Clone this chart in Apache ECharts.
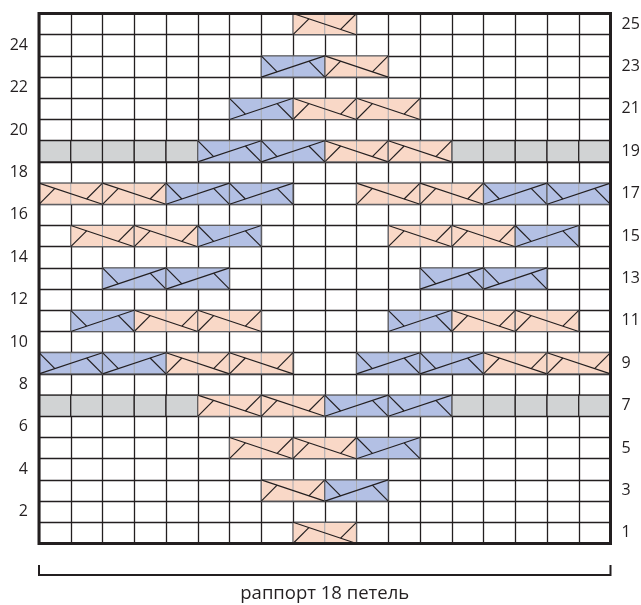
<!DOCTYPE html>
<html>
<head>
<meta charset="utf-8">
<script src="https://cdn.jsdelivr.net/npm/echarts@6/dist/echarts.min.js"></script>
<style>html,body{margin:0;padding:0;background:#fff;}#chart{width:641px;height:605px;}</style>
</head>
<body>
<div id="chart"></div>
<script>
// ---- data ----
const stitchCols = ['1','2','3','4','5','6','7','8','9','10','11','12','13','14','15','16','17','18'];
const rowLabels = ['1','2','3','4','5','6','7','8','9','10','11','12','13','14','15','16','17','18','19','20','21','22','23','24','25'];
// [row, first stitch] of each 2-stitch cross, right-leaning (peach)
const peachCables = [
  [1,9],
  [3,8],
  [5,7],[5,9],
  [7,6],[7,8],
  [9,5],[9,7],[9,15],[9,17],
  [11,4],[11,6],[11,14],[11,16],
  [15,2],[15,4],[15,12],[15,14],
  [17,1],[17,3],[17,11],[17,13],
  [19,10],[19,12],
  [21,9],[21,11],
  [23,10],
  [25,9]
];
// left-leaning (blue)
const blueCables = [
  [3,10],
  [5,11],
  [7,10],[7,12],
  [9,1],[9,3],[9,11],[9,13],
  [11,2],[11,12],
  [13,3],[13,5],[13,13],[13,15],
  [15,6],[15,16],
  [17,5],[17,7],[17,15],[17,17],
  [19,6],[19,8],
  [21,7],
  [23,8]
];
// [row, from stitch, to stitch] grey "no stitch" cells
const greyRuns = [[7,1,5],[7,14,18],[19,1,5],[19,14,18]];
const caption = 'раппорт 18 петель';

// ---- styles ----
const INK = '#231f20';
const PEACH = '#f9d8c7';
const BLUE = '#b3c0e4';
const GREY = '#d1d3d4';
const FONT = "'Open Sans', sans-serif";

function cableItem(params, api) {
  const col = api.value(0), row = api.value(1), kind = api.value(2);
  const c = api.coord([col, row]);
  const s = api.size([1, 1]);
  const w = s[0], h = s[1];
  const x = c[0] - w / 2, y = c[1] - h / 2, W = 2 * w;
  const lines = kind === 0
    ? [[x, y, x + W, y + h], [x, y + h, x + W / 4, y + h / 4], [x + W, y, x + 3 * W / 4, y + 3 * h / 4]]
    : [[x, y + h, x + W, y], [x, y, x + W / 4, y + 3 * h / 4], [x + W, y + h, x + 3 * W / 4, y + h / 4]];
  const children = [
    {type: 'rect', shape: {x: x, y: y, width: W, height: h}, style: {fill: kind === 0 ? PEACH : BLUE, stroke: null}},
    {type: 'line', shape: {x1: x + w, y1: y, x2: x + w, y2: y + h}, style: {stroke: '#a8aab0', lineWidth: 1}},
    {type: 'rect', shape: {x: x, y: y, width: W, height: h}, style: {fill: null, stroke: '#5f5f63', lineWidth: 1.2}}
  ];
  lines.forEach(function (l) {
    children.push({type: 'line', shape: {x1: l[0], y1: l[1], x2: l[2], y2: l[3]}, style: {stroke: INK, lineWidth: 1.2}});
  });
  return {type: 'group', children: children};
}

function greyItem(params, api) {
  const row = api.value(0), from = api.value(1), to = api.value(2);
  const s = api.size([1, 1]);
  const children = [];
  for (let k = from; k <= to; k++) {
    const c = api.coord([k, row]);
    children.push({type: 'rect', shape: {x: c[0] - s[0] / 2, y: c[1] - s[1] / 2, width: s[0], height: s[1]},
      style: {fill: GREY, stroke: INK, lineWidth: 1.2}});
  }
  return {type: 'group', children: children};
}

function frameItem(params, api) {
  const s = api.size([1, 1]);
  const a = api.coord([0, 0]);
  const b = api.coord([stitchCols.length - 1, rowLabels.length - 1]);
  const left = a[0] - s[0] / 2, right = b[0] + s[0] / 2;
  const bottom = a[1] + s[1] / 2, top = b[1] - s[1] / 2;
  const by = bottom + 31.5;
  return {type: 'group', children: [
    {type: 'rect', shape: {x: left, y: top, width: right - left, height: bottom - top}, style: {fill: null, stroke: INK, lineWidth: 3}},
    {type: 'polyline', shape: {points: [[left, by - 10], [left, by], [right, by], [right, by - 10]]}, style: {fill: null, stroke: INK, lineWidth: 2}}
  ]};
}

const cableData = peachCables.map(function (p) { return [p[1] - 1, p[0] - 1, 0]; })
  .concat(blueCables.map(function (p) { return [p[1] - 1, p[0] - 1, 1]; }));
const greyData = greyRuns.map(function (g) { return [g[0] - 1, g[1] - 1, g[2] - 1]; });

const chart = echarts.init(document.getElementById('chart'), null, {renderer: 'canvas'});
chart.setOption({
  animation: false,
  backgroundColor: '#fff',
  grid: {left: 39, right: 30.5, top: 13.5, bottom: 61.5, containLabel: false, outerBoundsMode: 'none'},
  xAxis: {
    type: 'category', data: stitchCols, position: 'bottom',
    axisLine: {show: false}, axisTick: {show: false}, axisLabel: {show: false},
    splitLine: {show: true, interval: 0, lineStyle: {color: INK, width: 1.3}},
    name: caption, nameLocation: 'middle', nameGap: 41,
    nameTextStyle: {fontFamily: FONT, fontSize: 18.5, color: INK}
  },
  yAxis: [
    {
      type: 'category', data: rowLabels, position: 'left',
      axisLine: {show: false}, axisTick: {show: false},
      axisLabel: {interval: 0, margin: 11, fontFamily: FONT, fontSize: 16, color: INK,
        formatter: function (v) { return (+v) % 2 === 0 ? v : ''; }},
      splitLine: {show: true, interval: 0, lineStyle: {color: INK, width: 1.3}}
    },
    {
      type: 'category', data: rowLabels, position: 'right',
      axisLine: {show: false}, axisTick: {show: false},
      axisLabel: {interval: 0, margin: 11, fontFamily: FONT, fontSize: 16, color: INK,
        formatter: function (v) { return (+v) % 2 === 1 ? v : ''; }},
      splitLine: {show: false}
    }
  ],
  series: [
    {type: 'custom', renderItem: greyItem, data: greyData, z: 2, silent: true},
    {type: 'custom', renderItem: cableItem, data: cableData, z: 3, silent: true},
    {type: 'custom', renderItem: frameItem, data: [[0, 0]], z: 4, silent: true}
  ]
});
</script>
</body>
</html>
